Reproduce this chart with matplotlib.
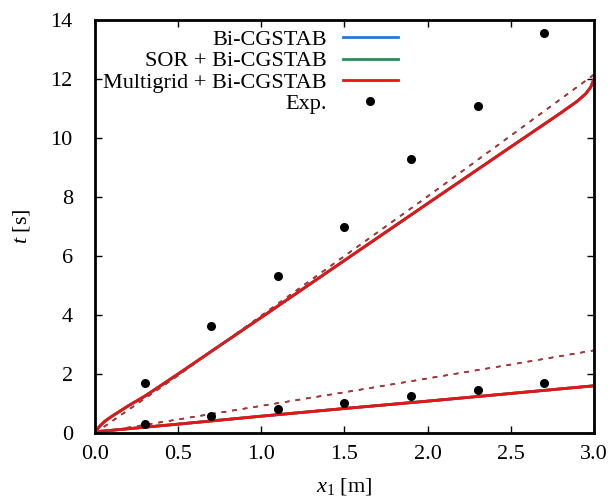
import numpy as np
import matplotlib
matplotlib.use('Agg')
import matplotlib.pyplot as plt

plt.rcParams['font.family'] = ['Liberation Serif', 'DejaVu Serif']
plt.rcParams['mathtext.fontset'] = 'custom'
plt.rcParams['mathtext.rm'] = 'Liberation Serif'
plt.rcParams['mathtext.it'] = 'Liberation Serif:italic'

# dados
x_sup = [0, 0.01, 0.03, 0.06, 0.1, 0.2, 0.3, 0.5, 0.7, 1.0, 1.5, 2.0, 2.5, 2.8, 2.9, 2.95, 2.98, 3.0]
t_sup = [0, 0.1, 0.24, 0.4, 0.56, 0.92, 1.25, 2.0, 2.77, 3.92, 5.85, 7.78, 9.7, 10.85, 11.25, 11.5, 11.72, 12.0]
x_sup_tr = [0, 0.5, 1.0, 1.5, 2.0, 2.5, 3.0]
t_sup_tr = [0, 1.95, 3.98, 6.0, 8.02, 10.08, 12.15]

x_inf = [0, 0.02, 0.5, 1.0, 1.5, 2.0, 2.5, 3.0]
t_inf = [0, 0.05, 0.3, 0.57, 0.83, 1.08, 1.34, 1.6]
x_inf_tr = [0, 0.5, 1.0, 1.5, 2.0, 2.5, 3.0]
t_inf_tr = [0, 0.46, 0.92, 1.38, 1.85, 2.32, 2.8]

x_exp = [0.3, 0.7, 1.1, 1.5, 1.9, 2.3, 2.7]
t_exp_sup = [1.7, 3.62, 5.33, 6.97, 9.28, 11.1, 13.55]
t_exp_inf = [0.3, 0.58, 0.8, 1.03, 1.25, 1.47, 1.68]

metodos = ['Bi-CGSTAB', 'SOR + Bi-CGSTAB', 'Multigrid + Bi-CGSTAB']
cores = ['#1f78e6', '#2e8b57', '#ee1111']

fig = plt.figure(figsize=(6.16, 5.03), dpi=100)
ax = fig.add_axes([0.1542, 0.1392, 0.8101, 0.821])

# as tres curvas se sobrepoem, o vermelho fica por cima
for nome, cor in zip(metodos, cores):
    ax.plot(x_sup, t_sup, color=cor, lw=2, label=nome)
    ax.plot(x_inf, t_inf, color=cor, lw=2)
    ax.plot(x_sup_tr, t_sup_tr, color='#a83838', lw=1.1, ls=(0, (3, 4)))
    ax.plot(x_inf_tr, t_inf_tr, color='#a83838', lw=1.1, ls=(0, (3, 4)))

ax.plot(x_exp, t_exp_sup, 'o', color='black', ms=5.5, label='Exp.')
ax.plot(x_exp, t_exp_inf, 'o', color='black', ms=5.5)

ax.set_xlim(0, 3.0)
ax.set_ylim(0, 14)
ax.set_xticks(np.arange(0, 3.01, 0.5))
ax.set_xticklabels(['%.1f' % v for v in np.arange(0, 3.01, 0.5)])
ax.set_yticks(np.arange(0, 15, 2))
ax.tick_params(direction='in', length=5, width=1, top=True, right=True, labelsize=16)
ax.tick_params(axis='y', pad=16)
ax.tick_params(axis='x', pad=9)
for s in ax.spines.values():
    s.set_linewidth(2)

ax.set_xlabel(r'$x_1$ [m]', fontsize=16, labelpad=8)
ax.set_ylabel(r'$t$ [s]', fontsize=16, labelpad=13)

ax.legend(loc='upper left', bbox_to_anchor=(-0.012, 1.012), frameon=False, markerfirst=False,
          fontsize=16, handlelength=2.5, labelspacing=0.03, handletextpad=0.7,
          borderaxespad=0.25)
leg = ax.get_legend()
for t in leg.get_texts():
    t.set_ha('right')

fig.savefig('out.png', dpi=100)
